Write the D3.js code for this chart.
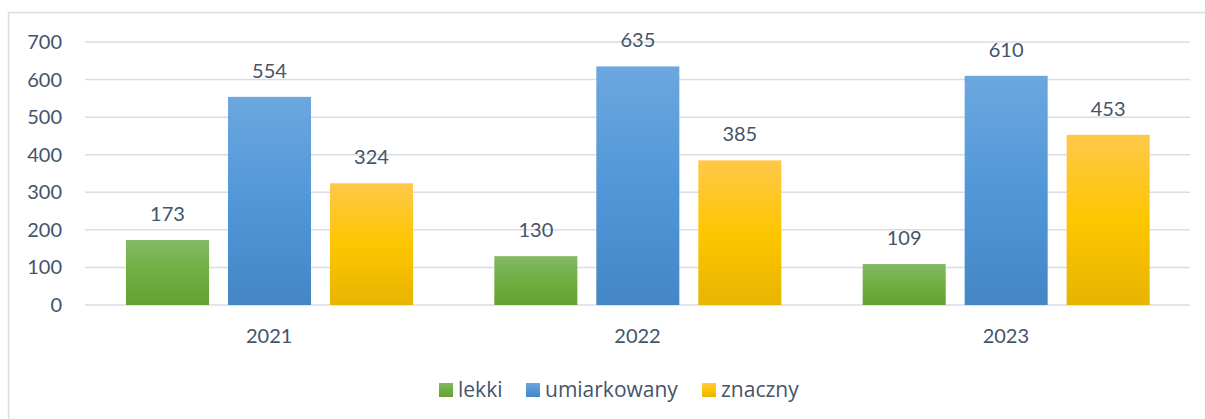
<!DOCTYPE html>
<html><head><meta charset="utf-8">
<script src="https://cdn.jsdelivr.net/npm/d3@7"></script>
<style>body{margin:0;background:#fff}svg{display:block}text{font-family:Lato,"Open Sans",sans-serif;fill:#44546a}</style>
</head><body><svg id="c" width="1205" height="419"></svg>
<script>
const categories = ["2021","2022","2023"];
const seriesNames = ["lekki","umiarkowany","znaczny"];
const lekki = [173,130,109];
const umiarkowany = [554,635,610];
const znaczny = [324,385,453];
const yTicks = [0,100,200,300,400,500,600,700];

const svg = d3.select("#c");
const defs = svg.append("defs");
const grads = [
  {id:"g0", stops:[["0%","#84b962"],["50%","#6fae43"],["100%","#62a330"]]},
  {id:"g1", stops:[["0%","#6ca7df"],["50%","#5197d8"],["100%","#4486c6"]]},
  {id:"g2", stops:[["0%","#ffc84a"],["50%","#fec600"],["100%","#e7b400"]]}
];
grads.forEach(g=>{
  const lg = defs.append("linearGradient").attr("id",g.id).attr("x1",0).attr("y1",0).attr("x2",0).attr("y2",1);
  g.stops.forEach(s=>lg.append("stop").attr("offset",s[0]).attr("stop-color",s[1]));
});

svg.append("rect").attr("x",8.5).attr("y",12.5).attr("width",1300).attr("height",500)
  .attr("fill","none").attr("stroke","#d9dde3").attr("stroke-width",1.5);

const y = d3.scaleLinear().domain([0,700]).range([305,42]);
const x0 = d3.scaleBand().domain(categories).range([85,1190]).padding(0);
const x1 = d3.scaleBand().domain(seriesNames).range([41,328]).paddingInner(0.186).paddingOuter(0);

svg.append("g").selectAll("line").data(yTicks).join("line")
  .attr("x1",85).attr("x2",1190).attr("y1",d=>y(d)).attr("y2",d=>y(d))
  .attr("stroke","#d9dde3").attr("stroke-width",1.5);

svg.append("g").selectAll("text").data(yTicks).join("text")
  .attr("x",62).attr("y",d=>y(d)+7).attr("text-anchor","end")
  .attr("font-size",20).text(d=>d);

const series = [lekki, umiarkowany, znaczny];
categories.forEach((c,ci)=>{
  const g = svg.append("g").attr("transform",`translate(${x0(c)},0)`);
  seriesNames.forEach((s,si)=>{
    const v = series[si][ci];
    g.append("rect").attr("x",x1(s)).attr("width",x1.bandwidth())
      .attr("y",y(v)).attr("height",y(0)-y(v)).attr("fill",`url(#g${si})`);
    g.append("text").attr("x",x1(s)+x1.bandwidth()/2).attr("y",y(v)-19)
      .attr("text-anchor","middle").attr("font-size",20).text(v);
  });
  svg.append("text").attr("x",x0(c)+x0.bandwidth()/2).attr("y",343)
    .attr("text-anchor","middle").attr("font-size",20).text(c);
});

const legendX = [439, 526, 702];
seriesNames.forEach((s,i)=>{
  svg.append("rect").attr("x",legendX[i]).attr("y",383).attr("width",14).attr("height",14).attr("fill",`url(#g${i})`);
  svg.append("text").attr("x",legendX[i]+19).attr("y",397).attr("font-size",21)
    .style("font-family","'Open Sans',sans-serif").text(s);
});
</script></body></html>
